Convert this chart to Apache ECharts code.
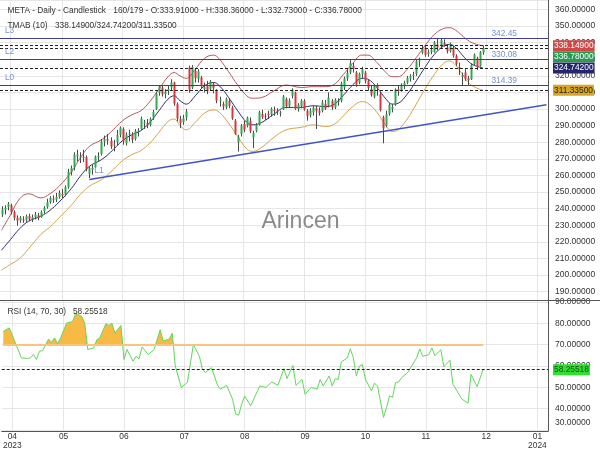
<!DOCTYPE html>
<html><head><meta charset="utf-8">
<script src="https://cdn.jsdelivr.net/npm/echarts@6/dist/echarts.min.js"></script>
<style>html,body{margin:0;padding:0;background:#fff}#c{width:600px;height:450px}</style>
</head><body><div id="c"></div>
<script>
// ---------- DATA ----------
const slotCount = 181;
const categories = Array.from({length: slotCount}, (_, i) => 'd' + i);
const monthTickIndex = [3, 20, 40, 60, 80, 100, 120, 140, 160, 177];
const monthTickLabel = ['04\n2023','05','06','07','08','09','10','11','12','01\n2024'];

// [open, close, low, high]
const ohlc = [
[236.5,239.5,235,241.5],[239.5,240.5,236.5,242],[241,242.8,239,244],[242,238,236.5,243],[238,234.5,233,239],
[234.5,232.8,229.8,236],[233,234.5,231.5,235.5],[233.5,233.3,231.5,235.5],[233,235.5,232,236.5],[235.5,233.5,232.5,237],
[234,235,232,236.5],[235,236.5,233.5,238],[236,234.5,233,237.5],[235,238,234.5,239],[238.5,240.5,237,241.5],
[241,244,240,246],[244,246.5,243,247.5],[246,245.5,243.5,248],[245.5,247,244,249.5],[247,249.5,246,251],
[249,248,246,252],[248.5,253,247.5,254],[253,262,252,264],[262,264.5,260,266],[265,272.5,263,274],
[271.5,272.6,268.5,275.5],[271,271.4,267.5,274],[271.2,271.1,268,275.5],[271,263.6,262.5,272],[261,264.5,258.5,265.5],
[263.5,264.6,260.5,266.5],[265,271.3,264.5,272],[271,271.9,268.5,274],[273,280.5,272,282],[280.5,281.8,277.5,284],
[282,281,278.5,285],[281,277.5,276,283],[278,278.5,274.5,281.5],[280,284.3,278,287.5],[284.5,288.8,283,289.5],
[288,280.5,278.5,289],[279.5,284.5,278,286],[285,285.3,280.5,287.5],[284.5,281.5,279.5,286],[282,286.9,281,288],
[286.5,287,283.5,288.5],[288,294.4,287.5,295.5],[291.5,292,288,293.5],[291.5,290.5,288.5,294],[290.5,294.1,289.5,295],
[295,298.3,293.5,299.5],[300,309.3,299.5,310.5],[310,313.4,308,314.5],[313,308.9,307.5,314],[309,310.6,306.5,312],
[311,312.1,308.5,314.5],[313,316,311.5,318],[316,303.3,302,316.5],[303,294.3,292.5,304],[294,291.6,288.5,296],
[292,294.5,290.5,296.5],[295,298.6,293,300],[325,311.7,309.8,326.2],[313,325.5,312,326.5],[323,318.6,316,324.5],
[318,322.7,316,324],[319,314.3,312.5,320],[312,313.2,310,316],[314,310.7,309,317],[312,316.6,311,317.5],
[315,312.6,309.5,316],[311,305.2,303.5,312],[305,305.7,301.5,307.5],[303,301.6,299.5,304.5],[301,306.2,300,307],
[305,302,300.5,306.5],[301,294.3,293.5,302],[293,285.1,284.5,294],[280,283.25,274.4,284.5],[285,289.9,283.5,291],
[291,287.6,286,293],[290,294.7,289,295.5],[293,286.75,285.5,295],[283,285.5,276.5,287],[287,290.3,286,291.5],
[290.5,298,290,299],[297,295.1,294,299.5],[296,295.9,293.5,297.5],[297,296.4,294,299],[297,300.15,295.5,301],
[299.5,299.2,296,301.5],[299,298.7,296.5,300.5],[297.5,297.9,295.5,299],[300,307.6,299.5,308.5],[306,301.7,300.5,307],
[302,305.1,301,306.5],[308,311.7,306.5,312.5],[310,300.3,299.5,310.5],[300,302.55,298.5,303.5],[302,305.1,300.5,306],
[305,299.7,299,306],[299,295.7,293,300],[296.5,299.1,295,300.5],[298,300.8,296,302],[300.5,299,288,302],
[299,297.7,296,301],[299,304,298,305.5],[303,300.2,299.5,305.5],[302,306.8,301,310],[305,300.9,299.5,306],
[301,305.6,300,306.5],[305,304.8,302,306.5],[305,315.4,304,316.5],[313,318.4,311.5,319.5],[318.5,321.8,317,324],
[322,327.8,321,329.5],[326,324.2,322,328],[322,314.7,313.5,323],[316,321.15,315,322],[321,324,318.5,325.5],
[322,317,315.5,323],[317,312.8,311,318],[312,308.65,307.5,314],[307.5,314,306.5,315],[314,312.55,308,315.5],
[309,299.5,298.5,310],[295,288.35,279.4,296],[290,296.7,289,299],[297,302.7,296,303.5],[300,301.3,298,303],
[303,311.85,302,312.5],[312,310.9,308,314],[311,314.6,310.5,315.5],[314,315.8,312,317],[316,318.8,315,320],
[318.5,319.8,316.5,321],[320,320.55,317.5,322.5],[321,328.8,320,329.5],[329,329.2,325.5,331],[334,336.3,333,338.5],
[337,332.7,331.5,338],[333,334.2,331.5,336],[334.5,335.5,333,338.5],[334.5,340,334,341],[339,337,335.5,342.9],
[338,341.5,337,342.5],[340,338.2,337.5,342],[337,334.7,333.5,338.5],[335,339,334,340],[337,332.2,331,338],
[332,327.15,326,333],[325.5,324.8,320.5,328],[319.5,320.5,314,322],[322,318.3,317,324],[318.5,317.45,314.5,320],
[318,326.6,317.5,327.5],[327,332.75,326,333.5],[330.5,325.3,323.5,331.5],[326,334.2,325.5,335],[333.91,336.78,332.73,338.36]
];

// TMA band key points [barIndex, value]
const tmaMid = [[0,215],[3,221.5],[6,228],[9,232.5],[13,235.5],[16,239],[19,244],[23,252],[26,259.5],[29,265.5],[33,269.5],[36,274],[40,281],[43,284.5],[46,287],[49,292],[52,299],[55,306],[57,308],[59,305],[61,303],[64,308],[67,314],[70,316],[72,314],[75,307],[78,299],[81,292],[83,290.5],[86,292],[90,297],[94,301],[99,301],[103,302],[107,301.5],[110,303],[113,308.5],[116,314.5],[119,318.5],[121,318],[124,313],[127,306],[129,303],[131,303.5],[134,309],[137,317],[140,325.5],[143,333],[146,338],[148,339],[150,337],[152,333],[154,329],[156,326.5],[159,324.742]];
const tmaUpper = [[0,227],[3,236.5],[6,246],[9,249],[13,246.5],[16,249],[19,253.5],[23,262],[26,270.5],[29,277.5],[33,281.5],[36,286],[40,293],[43,296.5],[46,299],[49,304.5],[52,312],[55,319.5],[57,322],[59,320],[61,318.5],[64,324],[67,330.5],[70,332.5],[72,330],[75,322.5],[78,314.5],[81,308],[83,306.5],[86,307],[90,311],[94,314.5],[99,313],[103,313.5],[107,313.5],[110,315],[113,321],[116,327.5],[119,332.5],[121,332.5],[124,328],[127,322],[129,319.5],[131,319.5],[134,324],[137,331],[140,338.5],[143,345],[146,348.5],[148,349],[150,347.5],[152,344.5],[154,341.5],[156,339.5],[159,338.149]];
const tmaLower = [[0,203],[3,206.5],[6,210],[9,216],[13,224.5],[16,229],[19,234.5],[23,242],[26,248.5],[29,253.5],[33,257.5],[36,262],[40,269],[43,272.5],[46,275],[49,279.5],[52,286],[55,292.5],[57,294],[59,290],[61,287.5],[64,292],[67,297.5],[70,299.5],[72,298],[75,291.5],[78,283.5],[81,276],[83,274.5],[86,277],[90,283],[94,287.5],[99,289],[103,290.5],[107,289.5],[110,291],[113,296],[116,301.5],[119,304.5],[121,303.5],[124,298],[127,290],[129,286.5],[131,287.5],[134,294],[137,303],[140,312.5],[143,321],[146,327.5],[148,329],[150,326.5],[152,321.5],[154,316.5],[156,313.5],[159,311.335]];

// RSI(14) key points [barIndex, value]
const rsi = [[0,76.2],[2,77.8],[4,70.8],[6,63.8],[8,63.5],[9,63.8],[10,65.3],[11,63],[12,66.9],[13,67.1],[15,72.6],[16,71.1],[17,73.1],[18,70.4],[19,73.1],[21,80.1],[23,80.8],[24,84.7],[26,83.2],[27,80],[28,67.7],[30,68.4],[31,72.3],[32,73.1],[34,79.8],[35,79],[36,80],[37,75.4],[39,79],[40,63],[41,67.7],[43,62.2],[44,64.5],[45,63.3],[46,68.9],[48,65.3],[50,67.7],[52,77],[53,71.6],[55,72.6],[56,75.4],[57,59.9],[59,49.9],[61,52.2],[63,70],[65,64.5],[66,58.4],[67,56.9],[69,59.2],[71,50.9],[72,49.1],[74,50.9],[76,44.4],[77,37.4],[78,36.9],[79,42.1],[80,45.9],[82,41.3],[85,50.6],[87,49.9],[89,52.5],[91,50.9],[93,58.7],[94,54.1],[96,60.2],[97,50.9],[99,53.7],[100,46.7],[102,49.9],[104,49.1],[105,53.7],[106,50.6],[108,55.3],[109,50.6],[110,54],[111,53.7],[112,61.8],[114,63.8],[115,68],[116,63.8],[117,55.3],[118,59.9],[119,60.7],[120,53.7],[122,48.3],[123,51.9],[124,50.6],[126,35.9],[127,40.5],[128,46],[129,45.3],[130,52.2],[131,52.5],[132,54.5],[134,56.9],[135,59.2],[137,63.8],[138,68],[139,64.5],[141,65.3],[142,68.4],[143,64.8],[145,67.6],[146,59.6],[148,62.7],[149,51.4],[150,49.1],[152,44.4],[154,42.6],[155,56],[157,50.3],[159,58.25518]];
const rsiLast = 58.25518;
const rsiOverbought = 70;

// Support / resistance levels
const levelNames = ['L3','L2','L0'];
const levelValues = [342.45, 330.08, 314.39];
const trendLine = [[29, 257.6], [180, 302.6]];
const tmaLast = [338.149, 324.742, 311.335];

// ---------- CHART ----------
const FONT = 'Liberation Sans, Arial, Helvetica, sans-serif';
const GREEN = '#2fa84f', RED = '#d8363d', WICK = '#4a4a4a';
const GRID = '#e6e6e6', AXIS = '#555';
const chart = echarts.init(document.getElementById('c'));
const last = ohlc[ohlc.length - 1];
const lastIdx = ohlc.length - 1;
const candleData = ohlc.map((d, i) => [i, d[0], d[1], d[2], d[3]]);
const isTick = (i) => monthTickIndex.indexOf(i) >= 0;
const f5 = (v) => v.toFixed(5);
const on10 = (v) => Math.abs(v - Math.round(v / 10) * 10) < 1e-6;

const levelMarks = [];
levelValues.forEach((v, k) => {
  levelMarks.push({yAxis: v, lineStyle: {color: '#3d3d99', width: 1.2, type: 'solid'},
    label: {show: true, position: 'insideStartTop', formatter: levelNames[k], distance: [5, 3.5], color: '#7592d6', fontSize: 8.2, fontFamily: FONT}});
  levelMarks.push({yAxis: v, lineStyle: {color: 'rgba(0,0,0,0)', width: 0},
    label: {show: true, position: 'insideEndTop', formatter: v.toFixed(2), distance: [31, 0.8], color: '#7592d6', fontSize: 8.4, fontFamily: FONT}});
});
[tmaLast[0], last[1], tmaLast[1], tmaLast[2]].forEach(v => {
  levelMarks.push({yAxis: v, lineStyle: {color: '#222', width: 1, type: [3, 2]}, label: {show: false}});
});

const option = {
  animation: false,
  backgroundColor: '#fff',
  textStyle: {fontFamily: FONT},
  grid: [
    {left: 0, right: 52, top: 0, height: 300},
    {left: 0, right: 52, top: 300, height: 132}
  ],
  xAxis: [0, 1].map(k => ({
    type: 'category', gridIndex: k, data: categories, boundaryGap: true,
    axisLine: {show: k === 1, lineStyle: {color: AXIS}},
    axisTick: {show: false},
    axisLabel: k === 1 ? {show: true, interval: (i) => isTick(i), formatter: (v, i) => monthTickLabel[monthTickIndex.indexOf(i)] || '',
      fontSize: 8.4, lineHeight: 9, margin: 1, color: '#333', fontFamily: FONT} : {show: false},
    splitLine: {show: true, interval: (i) => isTick(i), alignWithLabel: true, lineStyle: {color: GRID, width: 1}}
  })),
  yAxis: [
    {type: 'value', gridIndex: 0, position: 'right', min: 185, max: 365.7, minInterval: 10, maxInterval: 10,
      axisLine: {show: true, lineStyle: {color: AXIS}}, axisTick: {show: false},
      axisLabel: {margin: 7, fontSize: 8.5, color: '#333', fontFamily: FONT, formatter: v => on10(v) ? f5(v) : ''},
      splitLine: {lineStyle: {color: GRID}}},
    {type: 'value', gridIndex: 1, position: 'right', min: 29.5, max: 90.9, minInterval: 10, maxInterval: 10,
      axisLine: {show: true, lineStyle: {color: AXIS}}, axisTick: {show: false},
      axisLabel: {margin: 7, fontSize: 8.5, color: '#333', fontFamily: FONT,
        formatter: v => !on10(v) ? '' : (Math.round(v) === 30 ? '{lo|' + f5(v) + '}' : f5(v)),
        rich: {lo: {fontSize: 8.5, color: '#333', fontFamily: FONT, padding: [0, 0, 15, 0]}}},
      splitLine: {lineStyle: {color: GRID}}}
  ],
  visualMap: [{type: 'piecewise', show: false, seriesIndex: 5, dimension: 1,
    pieces: [{gt: rsiOverbought, lte: 100, color: '#f6ba45'}, {gte: 0, lte: rsiOverbought, color: 'rgba(255,255,255,0)'}]}],
  series: [
    {name: 'upper', type: 'line', data: tmaUpper, smooth: 0.4, showSymbol: false, z: 2,
      lineStyle: {color: '#b65a5e', width: 1}},
    {name: 'mid', type: 'line', data: tmaMid, smooth: 0.4, showSymbol: false, z: 2,
      lineStyle: {color: '#2e2e6e', width: 1},
      markLine: {silent: true, symbol: 'none', animation: false, data: levelMarks}},
    {name: 'lower', type: 'line', data: tmaLower, smooth: 0.4, showSymbol: false, z: 2,
      lineStyle: {color: '#d4a449', width: 1}},
    {name: 'trend', type: 'line', data: trendLine, showSymbol: false, z: 2,
      lineStyle: {color: '#4454c2', width: 1.5}},
    {name: 'candles', type: 'custom', data: candleData, z: 3, clip: true,
      encode: {x: 0, y: [1, 2, 3, 4]},
      renderItem: function (params, api) {
        const i = api.value(0), o = api.value(1), c = api.value(2), l = api.value(3), h = api.value(4);
        const pO = api.coord([i, o]), pC = api.coord([i, c]), pL = api.coord([i, l]), pH = api.coord([i, h]);
        const band = api.size([1, 0])[0];
        const bw = Math.max(1, Math.round(band * 0.66));
        const cx = Math.round(pO[0]);
        const top = Math.min(pO[1], pC[1]);
        const hgt = Math.max(1, Math.abs(pO[1] - pC[1]));
        return {type: 'group', children: [
          {type: 'line', shape: {x1: cx + 0.5, y1: pH[1], x2: cx + 0.5, y2: pL[1]}, style: {stroke: WICK, lineWidth: 1}},
          {type: 'rect', shape: {x: cx + 0.5 - bw / 2, y: top, width: bw, height: hgt}, style: {fill: c >= o ? GREEN : RED}}
        ]};
      }},
    {name: 'rsiFill', type: 'line', xAxisIndex: 1, yAxisIndex: 1, data: rsi, showSymbol: false, z: 1,
      lineStyle: {width: 0, opacity: 0}, areaStyle: {origin: rsiOverbought, opacity: 1}},
    {name: 'rsi', type: 'line', xAxisIndex: 1, yAxisIndex: 1, data: rsi, showSymbol: false, z: 3,
      lineStyle: {color: '#5fd85a', width: 1},
      markLine: {silent: true, symbol: 'none', animation: false, data: [
        [{coord: [0, rsiOverbought], lineStyle: {color: '#f8c47f', width: 2, type: 'solid'}, label: {show: false}}, {coord: [lastIdx, rsiOverbought]}],
        {yAxis: rsiLast, lineStyle: {color: '#222', width: 1, type: [3, 2]}, label: {show: false}}
      ]}}
  ]
};
chart.setOption(option);

// ---------- overlays (positions from the chart's scales) ----------
const tags = [
  {v: tmaLast[0], bg: '#cf4747', fg: '#fff'},
  {v: last[1], bg: '#2b9a50', fg: '#fff'},
  {v: tmaLast[1], bg: '#25256b', fg: '#fff'},
  {v: tmaLast[2], bg: '#d9a624', fg: '#222'}
];
const TAG_H = 11;
let prevY = -1e9;
const g = [];
tags.forEach(t => {
  let y = chart.convertToPixel({yAxisIndex: 0}, t.v);
  if (y < prevY + TAG_H) y = prevY + TAG_H;
  prevY = y;
  g.push({type: 'text', x: 553, y: y, z: 100, style: {text: f5(t.v), fill: t.fg, backgroundColor: t.bg,
    padding: [2, 1, 1, 1], font: '8.4px ' + FONT, verticalAlign: 'middle', align: 'left'}});
});
const ry = chart.convertToPixel({yAxisIndex: 1}, rsiLast);
g.push({type: 'text', x: 553, y: ry, z: 100, style: {text: f5(rsiLast), fill: '#134d13', backgroundColor: '#2fe02f',
  padding: [2, 1, 1, 1], font: '8.4px ' + FONT, verticalAlign: 'middle', align: 'left'}});
const tp = chart.convertToPixel({xAxisIndex: 0, yAxisIndex: 0}, trendLine[0]);
g.push({type: 'text', x: tp[0] + 5, y: tp[1] - 9, z: 100, style: {text: 'L1', fill: '#7592d6', font: '8.4px ' + FONT, verticalAlign: 'middle'}});
g.push({type: 'line', z: 90, shape: {x1: 0, y1: 300.5, x2: 600, y2: 300.5}, style: {stroke: AXIS, lineWidth: 1}});
const hdr = (text, x, y, size) => ({type: 'text', x: x, y: y, z: 100, style: {text: text, fill: '#333', font: (size || 8.3) + 'px ' + FONT, verticalAlign: 'middle'}});
g.push(hdr('META - Daily - Candlestick', 7.5, 10.7));
g.push(hdr('160/179 - O:' + f5(last[0]) + ' - H:' + f5(last[3]) + ' - L:' + f5(last[2]) + ' - C:' + f5(last[1]), 113.3, 10.7));
g.push(hdr('TMAB (10)', 7.5, 25.3));
g.push(hdr(tmaLast.map(f5).join('/'), 55, 25.3));
g.push(hdr('RSI (14, 70, 30)', 7.5, 311.7));
g.push(hdr(f5(rsiLast), 73, 311.7));
g.push({type: 'text', x: 300.5, y: 222, z: 50, style: {text: 'Arincen', fill: '#8a8a8a', font: '23px ' + FONT, align: 'center', verticalAlign: 'middle'}});
chart.setOption({graphic: g});
</script></body></html>
